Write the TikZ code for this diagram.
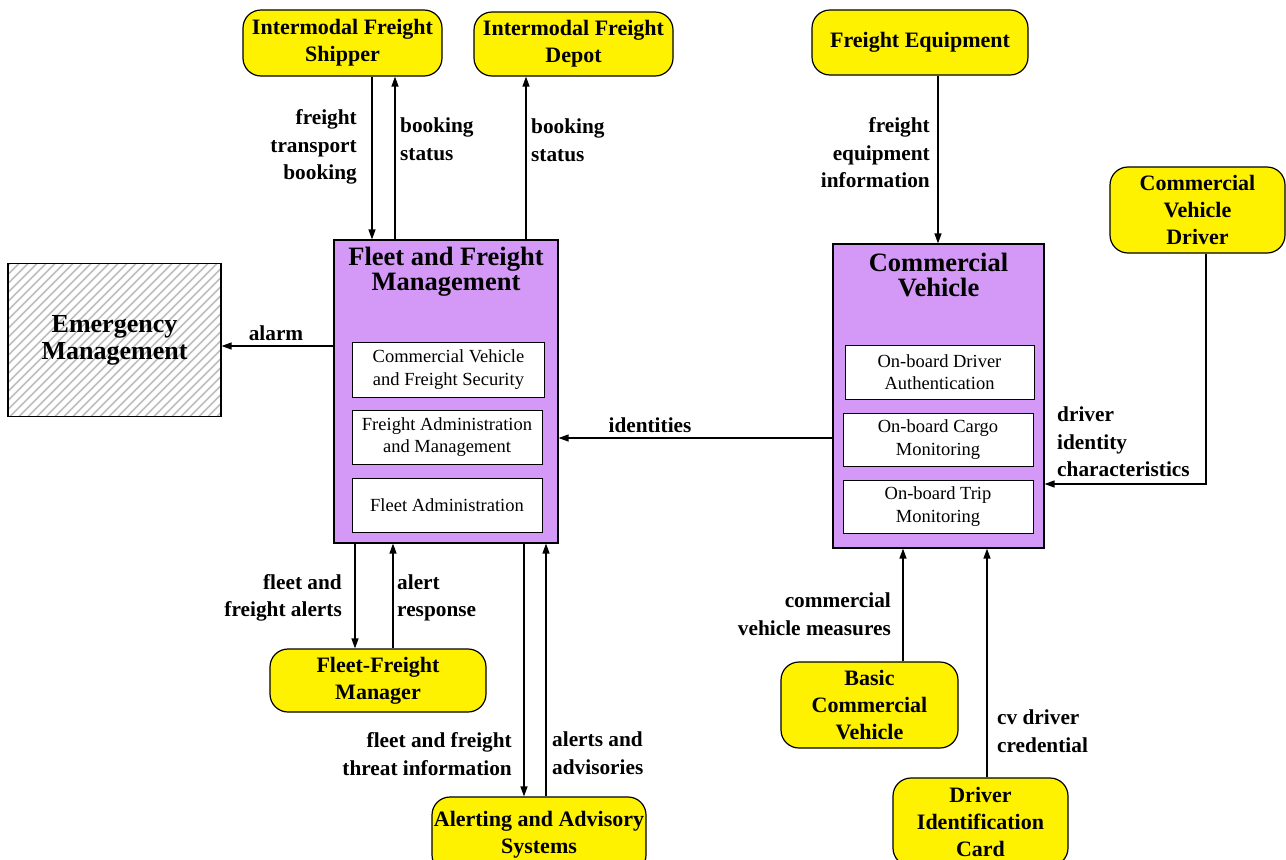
\documentclass[tikz,border=0pt]{standalone}
\usepackage{fontspec}
\setmainfont{Liberation Serif}
\usetikzlibrary{arrows.meta}
\definecolor{purp}{RGB}{212,152,247}
\definecolor{hatchgray}{RGB}{190,190,190}
\begin{document}
\begin{tikzpicture}[x=1pt,y=-1pt,
  every node/.style={inner sep=0pt},
  ext/.style={rectangle, rounded corners=18pt, fill=yellow, draw=black, line width=1.2pt,
    align=center, font=\bfseries\fontsize{22}{27}\selectfont},
  sysbox/.style={rectangle, fill=purp, draw=black, line width=1.2pt},
  systitle/.style={align=center, font=\bfseries\fontsize{26.5}{25}\selectfont},
  subbox/.style={rectangle, fill=white, draw=black, line width=1pt, align=center,
    font=\fontsize{18.5}{22.5}\selectfont},
  lab/.style={font=\bfseries\fontsize{21.3}{27.5}\selectfont},
  arr/.style={line width=1.3pt, -{Triangle[length=10pt,width=7pt]}}
]
\useasboundingbox (0,0) rectangle (1286,860);
\fill[white] (0,0) rectangle (1286,860);

% external yellow terminators
\node[ext, minimum width=199pt, minimum height=66pt] (ship) at (342.5,43) {Intermodal Freight\\Shipper};
\node[ext, minimum width=199pt, minimum height=64pt] (depot) at (573.5,44) {Intermodal Freight\\Depot};
\node[ext, minimum width=216pt, minimum height=65pt] (equip) at (920,42.5) {Freight Equipment};
\node[ext, minimum width=175pt, minimum height=86pt] (driver) at (1197.5,210) {Commercial\\Vehicle\\Driver};
\node[ext, minimum width=216pt, minimum height=63pt] (ffmgr) at (378,680.5) {Fleet-Freight\\Manager};
\node[ext, minimum width=214pt, minimum height=76pt] (alert) at (539,835) {Alerting and Advisory\\Systems};
\node[ext, minimum width=177pt, minimum height=86pt] (bcv) at (869.5,705) {Basic\\Commercial\\Vehicle};
\node[ext, minimum width=175pt, minimum height=88pt] (dic) at (980.5,822) {Driver\\Identification\\Card};

% emergency management (hatched)
\node[rectangle, draw=black, line width=1.2pt, fill=white, minimum width=213pt, minimum height=153pt,
  align=center, font=\bfseries\fontsize{26}{27}\selectfont,
  path picture={\foreach \i in {-160,-151,...,230} {\draw[hatchgray, line width=1.5pt] ([xshift=\i pt]path picture bounding box.south west) -- ++(160,-160);}}]
  (em) at (114.5,340) {Emergency\\Management};

% systems
\node[sysbox, minimum width=224pt, minimum height=303pt] (ffm) at (446,391.5) {};
\node[systitle] (ffmt) at (446,272) {Fleet and Freight\\Management};
\node[subbox, minimum width=192pt, minimum height=55pt] (cvfs) at (448.5,369.5) {Commercial Vehicle\\and Freight Security};
\node[subbox, minimum width=190pt, minimum height=54pt] (fam) at (447,437) {Freight Administration\\and Management};
\node[subbox, minimum width=190pt, minimum height=54pt] (fa) at (447,505) {Fleet Administration};

\node[sysbox, minimum width=211pt, minimum height=304pt] (cv) at (938.5,396) {};
\node[systitle] (cvt) at (938.5,275) {Commercial\\Vehicle};
\node[subbox, minimum width=189pt, minimum height=54pt] (oda) at (939.5,372) {On-board Driver\\Authentication};
\node[subbox, minimum width=190pt, minimum height=53pt] (ocm) at (938,439.5) {On-board Cargo\\Monitoring};
\node[subbox, minimum width=190pt, minimum height=53pt] (otm) at (938,506.5) {On-board Trip\\Monitoring};

% connectors
\coordinate (c1) at ([xshift=29.5pt]ship.south);
\draw[arr] (c1) -- (c1 |- ffm.north);
\coordinate (c2) at ([xshift=-51pt]ffm.north);
\draw[arr] (c2) -- (c2 |- ship.south);
\coordinate (c3) at ([xshift=80pt]ffm.north);
\draw[arr] (c3) -- (c3 |- depot.south);
\coordinate (c4) at ([xshift=18pt]equip.south);
\draw[arr] (c4) -- (c4 |- cv.north);
\coordinate (c5) at ([xshift=8.5pt]driver.south);
\coordinate (c5b) at ([yshift=-88pt]cv.east);
\draw[arr] (c5) |- (c5b);
\coordinate (c6) at ([yshift=-42pt]cv.west);
\draw[arr] (c6) -- (c6 -| ffm.east);
\coordinate (c7) at ([yshift=45.5pt]ffm.west);
\draw[arr] (c7) -- (c7 -| em.east);
\coordinate (c8) at ([xshift=-91pt]ffm.south);
\draw[arr] (c8) -- (c8 |- ffmgr.north);
\coordinate (c9) at ([xshift=15pt]ffmgr.north);
\draw[arr] (c9) -- (c9 |- ffm.south);
\coordinate (c10) at ([xshift=78pt]ffm.south);
\draw[arr] (c10) -- (c10 |- alert.north);
\coordinate (c11) at ([xshift=7pt]alert.north);
\draw[arr] (c11) -- (c11 |- ffm.south);
\coordinate (c12) at ([xshift=33.5pt]bcv.north);
\draw[arr] (c12) -- (c12 |- cv.south);
\coordinate (c13) at ([xshift=6.5pt]dic.north);
\draw[arr] (c13) -- (c13 |- cv.south);

% labels
\node[lab, align=right, anchor=east] (l1) at (357,147) {freight\\transport\\booking};
\node[lab, align=left, anchor=west] (l2) at (400,139) {booking\\status};
\node[lab, align=left, anchor=west] (l3) at (531,140) {booking\\status};
\node[lab, align=right, anchor=east] (l4) at (930,153) {freight\\equipment\\information};
\node[lab, align=left, anchor=west] (l5) at (1057,442) {driver\\identity\\characteristics};
\node[lab] (l6) at (276,333) {alarm};
\node[lab] (l7) at (650,425) {identities};
\node[lab, align=right, anchor=east] (l8) at (342,598) {fleet and\\freight alerts};
\node[lab, align=left, anchor=west] (l9) at (397,598) {alert\\response};
\node[lab, align=right, anchor=east] (l10) at (891,614) {commercial\\vehicle measures};
\node[lab, align=right, anchor=east] (l11) at (512,754) {fleet and freight\\threat information};
\node[lab, align=left, anchor=west] (l12) at (552,753) {alerts and\\advisories};
\node[lab, align=left, anchor=west] (l13) at (997,731) {cv driver\\credential};
\end{tikzpicture}
\end{document}
